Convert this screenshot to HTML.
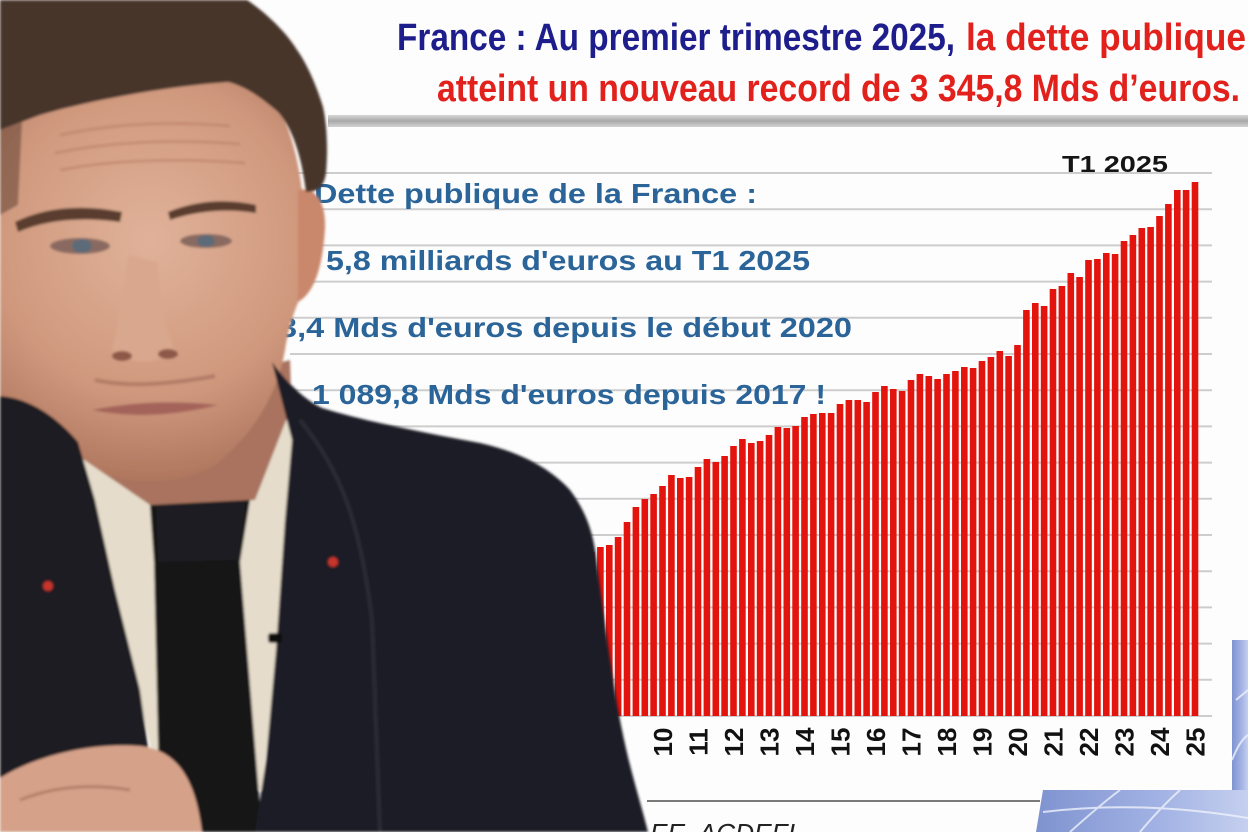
<!DOCTYPE html>
<html><head><meta charset="utf-8"><style>
html,body{margin:0;padding:0;background:#fff;width:1248px;height:832px;overflow:hidden}
svg{display:block}
</style></head><body>
<svg width="1248" height="832" viewBox="0 0 1248 832" xmlns="http://www.w3.org/2000/svg">
<defs>
<linearGradient id="band" x1="0" y1="0" x2="0" y2="1"><stop offset="0" stop-color="#d6d6d6"/><stop offset="0.5" stop-color="#a9a9a9"/><stop offset="1" stop-color="#d2d2d2"/></linearGradient>
<radialGradient id="skin" cx="150" cy="240" r="260" gradientUnits="userSpaceOnUse"><stop offset="0" stop-color="#e0b299"/><stop offset="0.6" stop-color="#cf987d"/><stop offset="1" stop-color="#a86f58"/></radialGradient>
<linearGradient id="globe" x1="0" y1="0" x2="1" y2="0"><stop offset="0" stop-color="#7f93d0"/><stop offset="0.6" stop-color="#a3b3e4"/><stop offset="1" stop-color="#c5d0ef"/></linearGradient>
<filter id="soft" x="-5%" y="-5%" width="110%" height="110%"><feGaussianBlur stdDeviation="1.3"/></filter>
</defs>
<rect width="1248" height="832" fill="#fdfdfd"/>

<!-- globe -->
<rect x="1232" y="640" width="16" height="152" fill="url(#globe)"/>
<path d="M1043,790 L1248,790 L1248,832 L1036,832 Z" fill="url(#globe)"/>
<g stroke="#eef2fb" stroke-width="2" fill="none" opacity="0.8">
<path d="M1070,832 Q1100,805 1120,790"/><path d="M1140,832 Q1160,808 1180,790"/>
<path d="M1043,812 Q1140,800 1248,818"/><path d="M1236,700 L1248,690"/><path d="M1232,760 Q1240,740 1248,735"/>
</g>

<!-- title -->
<text x="397" y="50" font-family="Liberation Sans, sans-serif" font-weight="bold" font-size="38" fill="#1d1d8c" textLength="558" lengthAdjust="spacingAndGlyphs">France : Au premier trimestre 2025,</text>
<text x="966" y="50" font-family="Liberation Sans, sans-serif" font-weight="bold" font-size="38" fill="#e2201c" textLength="280" lengthAdjust="spacingAndGlyphs">la dette publique</text>
<text x="437" y="101" font-family="Liberation Sans, sans-serif" font-weight="bold" font-size="38" fill="#e2201c" textLength="803" lengthAdjust="spacingAndGlyphs">atteint un nouveau record de 3 345,8 Mds d’euros.</text>
<rect x="328" y="115" width="920" height="12" fill="url(#band)"/>

<!-- gridlines -->
<g stroke="#cdcdcd" stroke-width="2">
<line x1="290" x2="1212" y1="173" y2="173"/><line x1="290" x2="1212" y1="209.2" y2="209.2"/><line x1="290" x2="1212" y1="245.4" y2="245.4"/><line x1="290" x2="1212" y1="281.6" y2="281.6"/><line x1="290" x2="1212" y1="317.8" y2="317.8"/><line x1="290" x2="1212" y1="354" y2="354"/><line x1="290" x2="1212" y1="390.2" y2="390.2"/><line x1="290" x2="1212" y1="426.4" y2="426.4"/><line x1="290" x2="1212" y1="462.6" y2="462.6"/><line x1="290" x2="1212" y1="498.8" y2="498.8"/><line x1="290" x2="1212" y1="535" y2="535"/><line x1="290" x2="1212" y1="571.2" y2="571.2"/><line x1="290" x2="1212" y1="607.4" y2="607.4"/><line x1="290" x2="1212" y1="643.6" y2="643.6"/><line x1="290" x2="1212" y1="679.8" y2="679.8"/><line x1="290" x2="1212" y1="716" y2="716"/>
</g>

<text x="1062" y="172" font-family="Liberation Sans, sans-serif" font-weight="bold" font-size="23" fill="#151515" textLength="106" lengthAdjust="spacingAndGlyphs">T1 2025</text>

<!-- blue info lines -->
<g font-family="Liberation Sans, sans-serif" font-weight="bold" font-size="28" fill="#2a6498">
<text x="314" y="203" textLength="443" lengthAdjust="spacingAndGlyphs">Dette publique de la France :</text>
<text x="326" y="270" textLength="484" lengthAdjust="spacingAndGlyphs">5,8 milliards d'euros au T1 2025</text>
<text x="279" y="337" textLength="573" lengthAdjust="spacingAndGlyphs">3,4 Mds d'euros depuis le début 2020</text>
<text x="312" y="404" textLength="514" lengthAdjust="spacingAndGlyphs">1 089,8 Mds d'euros depuis 2017 !</text>
</g>

<!-- bars -->
<g fill="#e3130d">
<rect x="1191.7" y="182" width="6.6" height="534"/>
<rect x="1182.8" y="190" width="6.6" height="526"/>
<rect x="1174.0" y="190" width="6.6" height="526"/>
<rect x="1165.1" y="204" width="6.6" height="512"/>
<rect x="1156.2" y="216" width="6.6" height="500"/>
<rect x="1147.3" y="227" width="6.6" height="489"/>
<rect x="1138.5" y="228" width="6.6" height="488"/>
<rect x="1129.6" y="235" width="6.6" height="481"/>
<rect x="1120.7" y="241" width="6.6" height="475"/>
<rect x="1111.8" y="254" width="6.6" height="462"/>
<rect x="1103.0" y="253" width="6.6" height="463"/>
<rect x="1094.1" y="259" width="6.6" height="457"/>
<rect x="1085.2" y="260" width="6.6" height="456"/>
<rect x="1076.3" y="277" width="6.6" height="439"/>
<rect x="1067.5" y="273" width="6.6" height="443"/>
<rect x="1058.6" y="286" width="6.6" height="430"/>
<rect x="1049.7" y="289" width="6.6" height="427"/>
<rect x="1040.8" y="306" width="6.6" height="410"/>
<rect x="1032.0" y="303" width="6.6" height="413"/>
<rect x="1023.1" y="310" width="6.6" height="406"/>
<rect x="1014.2" y="345" width="6.6" height="371"/>
<rect x="1005.3" y="356" width="6.6" height="360"/>
<rect x="996.5" y="351" width="6.6" height="365"/>
<rect x="987.6" y="357" width="6.6" height="359"/>
<rect x="978.7" y="361" width="6.6" height="355"/>
<rect x="969.8" y="368" width="6.6" height="348"/>
<rect x="961.0" y="367" width="6.6" height="349"/>
<rect x="952.1" y="371" width="6.6" height="345"/>
<rect x="943.2" y="374" width="6.6" height="342"/>
<rect x="934.3" y="379" width="6.6" height="337"/>
<rect x="925.5" y="376" width="6.6" height="340"/>
<rect x="916.6" y="374" width="6.6" height="342"/>
<rect x="907.7" y="380" width="6.6" height="336"/>
<rect x="898.8" y="391" width="6.6" height="325"/>
<rect x="890.0" y="389" width="6.6" height="327"/>
<rect x="881.1" y="386" width="6.6" height="330"/>
<rect x="872.2" y="392" width="6.6" height="324"/>
<rect x="863.3" y="402" width="6.6" height="314"/>
<rect x="854.5" y="400" width="6.6" height="316"/>
<rect x="845.6" y="400" width="6.6" height="316"/>
<rect x="836.7" y="404" width="6.6" height="312"/>
<rect x="827.8" y="413" width="6.6" height="303"/>
<rect x="819.0" y="413" width="6.6" height="303"/>
<rect x="810.1" y="414" width="6.6" height="302"/>
<rect x="801.2" y="417" width="6.6" height="299"/>
<rect x="792.3" y="426" width="6.6" height="290"/>
<rect x="783.5" y="428" width="6.6" height="288"/>
<rect x="774.6" y="427" width="6.6" height="289"/>
<rect x="765.7" y="435" width="6.6" height="281"/>
<rect x="756.8" y="441" width="6.6" height="275"/>
<rect x="748.0" y="443" width="6.6" height="273"/>
<rect x="739.1" y="439" width="6.6" height="277"/>
<rect x="730.2" y="446" width="6.6" height="270"/>
<rect x="721.3" y="456" width="6.6" height="260"/>
<rect x="712.5" y="462" width="6.6" height="254"/>
<rect x="703.6" y="459" width="6.6" height="257"/>
<rect x="694.7" y="467" width="6.6" height="249"/>
<rect x="685.8" y="477" width="6.6" height="239"/>
<rect x="677.0" y="478" width="6.6" height="238"/>
<rect x="668.1" y="475" width="6.6" height="241"/>
<rect x="659.2" y="486" width="6.6" height="230"/>
<rect x="650.3" y="494" width="6.6" height="222"/>
<rect x="641.5" y="499" width="6.6" height="217"/>
<rect x="632.6" y="507" width="6.6" height="209"/>
<rect x="623.7" y="522" width="6.6" height="194"/>
<rect x="614.8" y="537" width="6.6" height="179"/>
<rect x="606.0" y="545" width="6.6" height="171"/>
<rect x="597.1" y="547" width="6.6" height="169"/>
<rect x="588.2" y="552" width="6.6" height="164"/>
<rect x="579.3" y="556" width="6.6" height="160"/>
<rect x="570.5" y="560" width="6.6" height="156"/>
<rect x="561.6" y="565" width="6.6" height="151"/>
<rect x="552.7" y="570" width="6.6" height="146"/>
<rect x="543.8" y="575" width="6.6" height="141"/>
</g>

<!-- x labels -->
<g font-family="Liberation Sans, sans-serif" font-weight="bold" font-size="26" fill="#111" text-anchor="middle">
<text transform="translate(662.5,742) rotate(-90)" dy="0.36em">10</text>
<text transform="translate(698,742) rotate(-90)" dy="0.36em">11</text>
<text transform="translate(733.5,742) rotate(-90)" dy="0.36em">12</text>
<text transform="translate(769,742) rotate(-90)" dy="0.36em">13</text>
<text transform="translate(804.5,742) rotate(-90)" dy="0.36em">14</text>
<text transform="translate(840,742) rotate(-90)" dy="0.36em">15</text>
<text transform="translate(875.5,742) rotate(-90)" dy="0.36em">16</text>
<text transform="translate(911,742) rotate(-90)" dy="0.36em">17</text>
<text transform="translate(946.5,742) rotate(-90)" dy="0.36em">18</text>
<text transform="translate(982,742) rotate(-90)" dy="0.36em">19</text>
<text transform="translate(1017.5,742) rotate(-90)" dy="0.36em">20</text>
<text transform="translate(1053,742) rotate(-90)" dy="0.36em">21</text>
<text transform="translate(1088.5,742) rotate(-90)" dy="0.36em">22</text>
<text transform="translate(1124,742) rotate(-90)" dy="0.36em">23</text>
<text transform="translate(1159.5,742) rotate(-90)" dy="0.36em">24</text>
<text transform="translate(1195,742) rotate(-90)" dy="0.36em">25</text>
</g>

<!-- bottom source -->
<line x1="647" y1="801" x2="1040" y2="801" stroke="#7a7a7a" stroke-width="2"/>
<text x="650" y="842" font-family="Liberation Sans, sans-serif" font-style="italic" font-size="26" fill="#222" textLength="145" lengthAdjust="spacingAndGlyphs">EE, ACDEFI</text>

<!-- person -->
<g filter="url(#soft)">
<rect x="0" y="320" width="30" height="100" fill="#c7c3bc"/>
<!-- neck shadow -->
<path d="M60,420 L290,360 L295,520 L90,520 Z" fill="#a9735f"/>
<!-- face -->
<path d="M0,112 C60,90 160,70 222,64 C262,70 292,110 302,190 L304,290 C296,305 289,325 285,350 C278,390 258,430 215,465 C185,482 140,486 105,474 C70,462 40,440 15,415 L0,405 Z" fill="url(#skin)"/>
<!-- ear -->
<path d="M298,190 C314,186 326,200 325,228 C323,262 316,292 298,302 Z" fill="#c9876c"/>
<!-- hair -->
<path d="M0,0 L247,0 C262,10 285,30 297,50 C308,65 318,90 323,107 C327,125 328,150 326,173 C324,185 320,192 306,192 C302,160 294,130 278,112 C262,98 245,86 228,82 C170,86 90,100 40,115 L0,130 Z" fill="#47342a"/>
<path d="M0,130 L22,122 L18,205 L0,215 Z" fill="#6a4a38" opacity="0.6"/>
<!-- forehead wrinkles -->
<g stroke="#b77c64" stroke-width="3" fill="none" opacity="0.5">
<path d="M60,135 Q140,118 230,126"/><path d="M55,153 Q140,136 240,144"/><path d="M60,170 Q140,155 245,163"/>
</g>
<!-- brows -->
<path d="M15,222 Q60,200 122,212 L120,222 Q60,214 18,232 Z" fill="#5a3d2e"/>
<path d="M168,212 Q210,195 256,205 L256,213 Q212,206 170,220 Z" fill="#5a3d2e"/>
<!-- eyes -->
<ellipse cx="80" cy="246" rx="30" ry="8" fill="#8a6a60"/><ellipse cx="82" cy="246" rx="10" ry="7" fill="#5d6b78"/>
<ellipse cx="206" cy="241" rx="26" ry="7" fill="#8a6a60"/><ellipse cx="206" cy="241" rx="9" ry="6" fill="#5d6b78"/>
<!-- nose -->
<path d="M128,255 Q120,320 112,350 Q140,372 176,352 Q160,320 158,262 Z" fill="#d9a78d"/>
<ellipse cx="122" cy="356" rx="10" ry="5" fill="#8e5848"/><ellipse cx="168" cy="354" rx="10" ry="5" fill="#8e5848"/>
<path d="M95,380 Q140,390 215,376" stroke="#b27b66" stroke-width="4" fill="none"/>
<!-- mouth -->
<path d="M92,410 Q150,398 218,405 Q150,422 92,410 Z" fill="#a4645a"/>
<!-- shirt -->
<path d="M55,440 L150,505 L255,500 L292,405 L300,470 L285,560 L272,700 L262,790 L160,790 L140,700 L110,600 L85,480 Z" fill="#e6dccb"/>
<!-- tie -->
<path d="M150,505 L250,500 L240,562 L262,832 L160,832 L154,562 Z" fill="#141418"/>
<path d="M156,505 L246,502 L238,560 L158,562 Z" fill="#1e1e24"/>
<!-- suit left -->
<path d="M0,396 C30,398 58,418 78,442 L95,500 L115,590 L140,690 L160,832 L0,832 Z" fill="#1d1d24"/>
<!-- suit right -->
<path d="M272,362 C288,384 305,400 322,408 C360,420 420,432 480,443 C520,452 550,468 570,490 C585,510 592,530 595,550 C602,600 612,680 622,730 C630,770 640,800 648,832 L255,832 L266,760 L276,650 L285,520 L292,440 Z" fill="#1e1e25"/>
<path d="M300,420 C340,470 360,520 372,620 L380,832" stroke="#2c2c35" stroke-width="4" fill="none"/>
<!-- pins / mic -->
<circle cx="48" cy="586" r="5" fill="#c8342c"/>
<circle cx="333" cy="562" r="5" fill="#c8342c"/>
<rect x="268" y="633" width="14" height="10" rx="3" fill="#0c0c0e"/>
<!-- fist -->
<path d="M0,778 C35,756 90,742 140,746 C175,750 195,775 202,832 L0,832 Z" fill="#d5a189"/>
<path d="M20,800 Q70,780 130,790" stroke="#b27f68" stroke-width="3" fill="none"/>
</g>
</svg>
</body></html>
